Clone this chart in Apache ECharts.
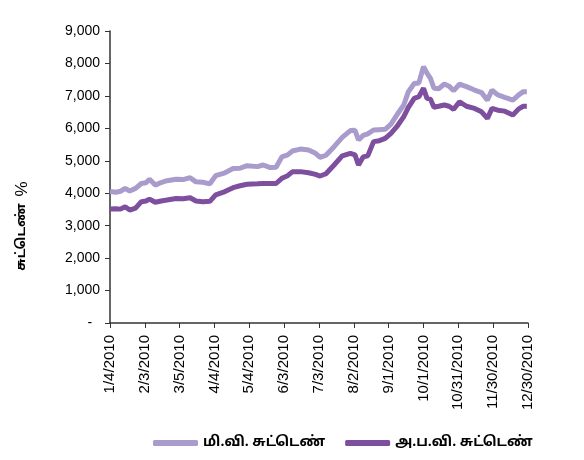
<!DOCTYPE html>
<html>
<head>
<meta charset="utf-8">
<script src="https://cdn.jsdelivr.net/npm/echarts@6/dist/echarts.min.js"></script>
<style>
  html, body { margin: 0; padding: 0; background: #fff; }
  #chart { width: 584px; height: 460px; }
</style>
</head>
<body>
<div id="chart"></div>
<script>
// days counted from 1/4/2010
const days = [0, 5, 9, 13, 17, 22, 27, 31, 34, 39, 44, 49, 57, 63, 69, 74, 80, 86, 91, 99,
  106, 112, 118, 127, 132, 138, 143, 148, 153, 157, 164, 171, 177, 181, 186, 193, 200, 207,
  211, 214, 218, 222, 227, 232, 237, 242, 247, 253, 257, 262, 266, 270, 273, 276, 279, 283,
  288, 292, 296, 301, 307, 314, 320, 325, 329, 334, 340, 347, 352, 356, 359];

// மி.வி. சுட்டெண்
const miviValues = [4050, 4030, 4060, 4150, 4070, 4150, 4300, 4320, 4430, 4250, 4330, 4385,
  4430, 4420, 4480, 4350, 4340, 4290, 4540, 4630, 4760, 4770, 4850, 4820, 4870, 4790, 4800,
  5120, 5180, 5300, 5360, 5330, 5230, 5105, 5170, 5435, 5720, 5930, 5940, 5640, 5780, 5830,
  5950, 5960, 5970, 6130, 6410, 6720, 7130, 7380, 7400, 7900, 7700, 7540, 7235, 7220, 7365,
  7300, 7160, 7365, 7285, 7180, 7100, 6870, 7180, 7030, 6955, 6870, 7030, 7130, 7130];

// அ.ப.வி. சுட்டெண்
const apviValues = [3510, 3520, 3510, 3585, 3480, 3540, 3740, 3760, 3820, 3720, 3760, 3790,
  3840, 3830, 3860, 3760, 3740, 3750, 3950, 4050, 4170, 4230, 4275, 4290, 4300, 4300, 4300,
  4460, 4540, 4660, 4665, 4630, 4580, 4530, 4600, 4870, 5150, 5230, 5180, 4870, 5120, 5150,
  5590, 5620, 5690, 5845, 6050, 6360, 6645, 6925, 6975, 7235, 6925, 6900, 6650, 6680, 6720,
  6680, 6585, 6820, 6680, 6615, 6510, 6305, 6615, 6560, 6530, 6410, 6600, 6680, 6680];

const seriesNames = ["மி.வி. சுட்டெண்", "அ.ப.வி. சுட்டெண்"];
const seriesColors = ["#A99BCB", "#7E4E9F"];
const startDate = Date.UTC(2010, 0, 4);

const toPairs = (vals) => vals.map((v, i) => [days[i], v]);

const dayLabel = (d) => {
  const dt = new Date(startDate + d * 86400000);
  return `${dt.getUTCMonth() + 1}/${dt.getUTCDate()}/${dt.getUTCFullYear()}`;
};

const chart = echarts.init(document.getElementById("chart"));

const axisFont = "Liberation Sans, Arial, sans-serif";
const tamilFont = "Noto Sans Tamil, Latha, Noto Sans, sans-serif";

chart.setOption({
  animation: false,
  backgroundColor: "#fff",
  grid: { left: 110, right: 56, top: 31, bottom: 137 },
  xAxis: {
    type: "value",
    min: 0,
    max: 360,
    interval: 30,
    axisLine: { lineStyle: { color: "#333", width: 1.5 } },
    axisTick: { show: true, length: 5, lineStyle: { color: "#333" } },
    splitLine: { show: false },
    axisLabel: {
      rotate: 90,
      margin: 12,
      color: "#000",
      fontSize: 15,
      fontFamily: axisFont,
      formatter: (v) => dayLabel(v),
    },
  },
  yAxis: {
    type: "value",
    min: 0,
    max: 9000,
    interval: 1000,
    axisLine: { show: true, lineStyle: { color: "#333", width: 1.5 } },
    axisTick: { show: true, length: 5, lineStyle: { color: "#333" } },
    splitLine: { show: false },
    axisLabel: {
      margin: 10,
      color: "#000",
      fontSize: 14,
      fontFamily: axisFont,
      formatter: (v) => (v === 0 ? "-  " : v.toLocaleString("en-US")),
    },
  },
  legend: {
    top: 431,
    left: 148,
    itemWidth: 45,
    itemHeight: 6,
    itemGap: 20,
    icon: "roundRect",
    textStyle: { fontSize: 14, fontWeight: "bold", color: "#000", fontFamily: tamilFont },
    data: seriesNames,
  },
  graphic: [
    {
      type: "text",
      x: 22,
      y: 226,
      rotation: Math.PI / 2,
      style: {
        text: "{t|சுட்டெண்}  {p|%}",
        fill: "#000",
        align: "center",
        verticalAlign: "middle",
        rich: {
          t: { font: "bold 13px " + tamilFont, fill: "#000" },
          p: { font: "17px " + axisFont, fill: "#000" },
        },
      },
    },
  ],
  series: [
    {
      name: seriesNames[0],
      type: "line",
      data: toPairs(miviValues),
      showSymbol: false,
      color: seriesColors[0],
      lineStyle: { width: 5, color: seriesColors[0] },
    },
    {
      name: seriesNames[1],
      type: "line",
      data: toPairs(apviValues),
      showSymbol: false,
      color: seriesColors[1],
      lineStyle: { width: 5, color: seriesColors[1] },
    },
  ],
});
</script>
</body>
</html>
